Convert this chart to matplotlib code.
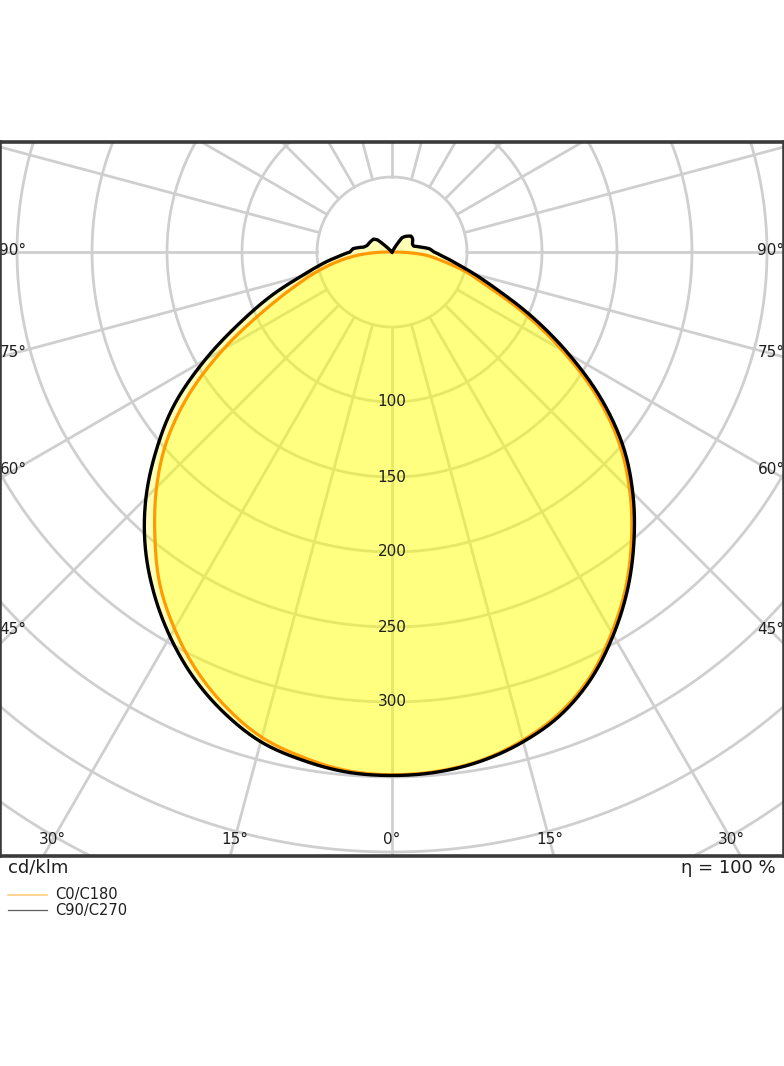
import numpy as np
import matplotlib
matplotlib.use('Agg')
import matplotlib.pyplot as plt
from matplotlib.lines import Line2D

# luminous intensity distribution, cd/klm
gamma = [0, 5, 10, 15, 20, 25, 30, 35, 40, 45, 50, 55, 60, 65, 70, 75, 80, 85, 90,
         95, 100, 105, 110, 115, 120, 125, 130, 135, 140, 145, 150, 155, 160, 165,
         170, 175, 180]
c0 = [348.5, 347.5, 344, 337, 327, 312.5, 293, 272, 248.5, 224, 197.5, 166, 131, 98,
      69, 51, 34, 22, 2, 0, 0, 0, 0, 0, 0, 0, 0, 0, 0, 0, 0, 0, 0, 0, 0, 0, 0]
c180 = [348.5, 347, 342, 335, 323, 308, 290, 270, 246, 222, 196, 165, 130, 96, 71,
        53, 37, 22, 3, 0, 0, 0, 0, 0, 0, 0, 0, 0, 0, 0, 0, 0, 0, 0, 0, 0, 0]
c90 = [349, 348, 344.5, 338, 328.5, 314, 295, 274, 251, 227, 201, 170, 136, 104, 76,
       57, 43, 34, 28, 25, 19, 15, 14.5, 15, 16, 16.5, 16.5, 15, 13.5, 11.5, 0, 0,
       0, 0, 0, 0, 0]
c270 = [349, 348, 344, 338, 327, 313, 296, 277, 256, 232, 205, 177, 144, 112, 86,
        63, 48, 36, 28, 26, 19, 17, 16.5, 16, 15.5, 15, 12.5, 0, 0, 0, 0, 0, 0, 0,
        0, 0, 0]

ring_labels = [100, 150, 200, 250, 300]
side_angles = [45, 60, 75, 90]
bottom_angles = [0, 15, 30]
legend_names = ['C0/C180', 'C90/C270']

W, H = 784, 1066
scale = 1.5  # pixels per cd/klm

fig = plt.figure(figsize=(W / 100, H / 100), dpi=100)
ax = fig.add_axes([0, (H - 856) / H, 1, 714 / H])
ax.set_xlim(-392 / scale, 392 / scale)
ax.set_ylim(-604 / scale, 110 / scale)
ax.set_xticks([])
ax.set_yticks([])
for s in ax.spines.values():
    s.set_linewidth(2.6)
    s.set_color('#3a3a3a')
    s.set_zorder(10)

grid_col = '#cfcfcf'
t = np.linspace(0, 2 * np.pi, 400)
for r in range(50, 551, 50):
    ax.plot(r * np.cos(t), r * np.sin(t), color=grid_col, lw=2.0, zorder=1)
for a in range(0, 360, 15):
    ar = np.radians(a)
    ax.plot([50 * np.sin(ar), 700 * np.sin(ar)], [-50 * np.cos(ar), -700 * np.cos(ar)],
            color=grid_col, lw=2.0, zorder=1)

g_fine = np.linspace(0, 180, 721)
gf = np.radians(g_fine)
ga = np.array(gamma, dtype=float)


def smooth_r(vals):
    # Catmull-Rom through the measured points for the main lobe,
    # plain polar interpolation in the steep part near the horizon and above
    v = np.array(vals, dtype=float)
    p = np.concatenate([[v[1]], v, [v[-2]]])  # mirrored ends (symmetric about 0)
    out = np.interp(g_fine, ga, v)
    for i, gg in enumerate(g_fine):
        if gg >= 80:
            break
        k = min(int(gg // 5), len(v) - 2)
        u = (gg - ga[k]) / 5.0
        p0, p1, p2, p3 = p[k], p[k + 1], p[k + 2], p[k + 3]
        out[i] = 0.5 * (2 * p1 + (-p0 + p2) * u + (2 * p0 - 5 * p1 + 4 * p2 - p3) * u ** 2
                        + (-p0 + 3 * p1 - 3 * p2 + p3) * u ** 3)
    return np.clip(out, 0, None)


def outline(right, left):
    rr = smooth_r(right)
    rl = smooth_r(left)
    x = np.concatenate([-rl[::-1] * np.sin(gf[::-1]), rr * np.sin(gf)])
    y = np.concatenate([-rl[::-1] * np.cos(gf[::-1]), -rr * np.cos(gf)])
    return x, y


xo, yo = outline(c0, c180)
xb, yb = outline(c90, c270)
ax.fill(xo, yo, color='#ffff00', alpha=0.29, lw=0, zorder=2)
ax.fill(xb, yb, color='#ffff00', alpha=0.29, lw=0, zorder=2)
ax.plot(xo, yo, color='#ff9a00', lw=2.3, zorder=3)
ax.plot(xb, yb, color='black', lw=2.4, zorder=4)

txt_col = '#1e1e1e'
for r in ring_labels:
    ax.text(0, -r, str(r), ha='center', va='center', fontsize=11, color=txt_col, zorder=6)

# angle labels sit on their rays just inside the frame
side_x = (392 - 13) / scale
for a in side_angles:
    y = 0 if a == 90 else -side_x / np.tan(np.radians(a))
    for sgn in (-1, 1):
        ax.text(sgn * side_x, y + 1, f'{a}°', ha='center', va='center', fontsize=11,
                color=txt_col, zorder=6, clip_on=False)
bot_y = -(604 - 16) / scale
for a in bottom_angles:
    xs = [0] if a == 0 else [-1, 1]
    for sgn in xs:
        ax.text(sgn * (-bot_y) * np.tan(np.radians(a)), bot_y, f'{a}°', ha='center',
                va='center', fontsize=11, color=txt_col, zorder=6)

fig.text(8 / W, 1 - 868 / H, 'cd/klm', ha='left', va='center', fontsize=13, color=txt_col)
fig.text(776 / W, 1 - 868 / H, 'η = 100 %', ha='right', va='center', fontsize=13,
         color=txt_col)

leg_cols = [('#ff9a00', 0.5, 1.2), ('#333333', 0.8, 0.9)]
for i, (name, (c, al, lw)) in enumerate(zip(legend_names, leg_cols)):
    yy = 1 - (895 + 15 * i) / H
    fig.add_artist(Line2D([8 / W, 47 / W], [yy, yy], color=c, alpha=al, lw=lw))
    fig.text(55 / W, yy, name, ha='left', va='center', fontsize=10.5, color=txt_col)

fig.savefig('out.png', dpi=100)
